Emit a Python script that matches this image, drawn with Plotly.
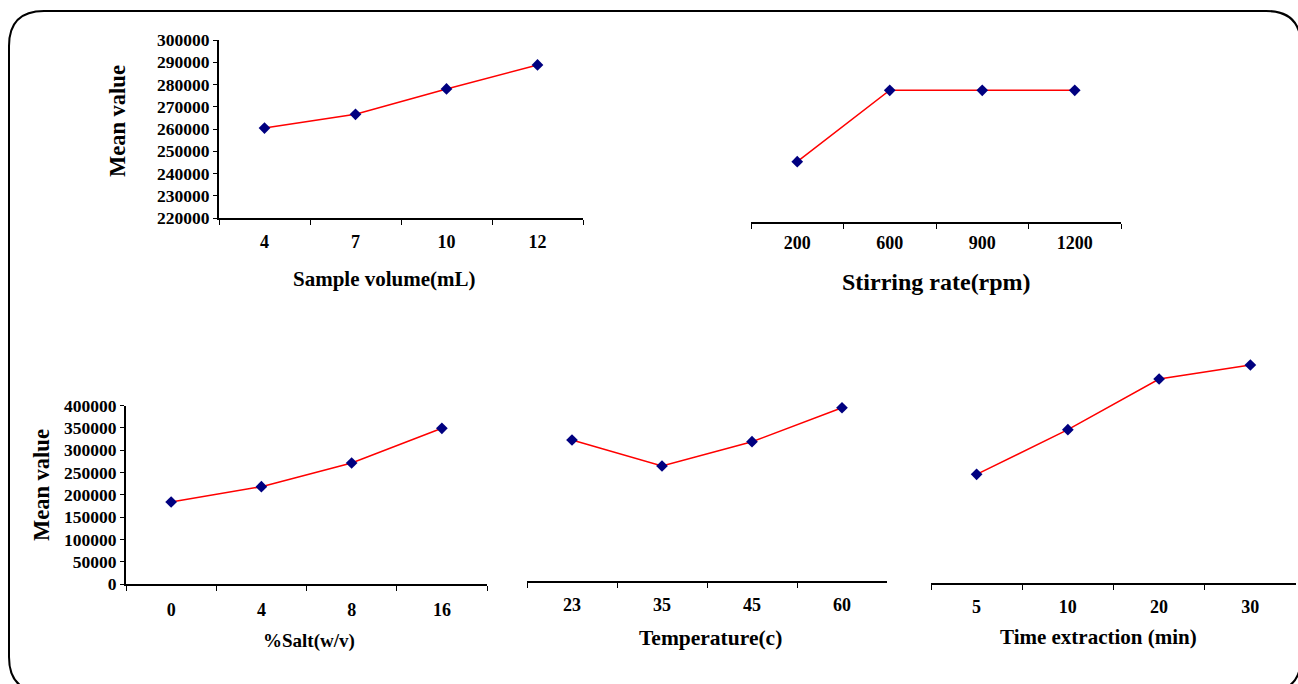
import plotly.graph_objects as go

W, H = 1298, 684

# ---------------- data ----------------
vol_cats = ["4", "7", "10", "12"]
vol_vals = [260400, 266600, 278000, 288800]

stir_cats = ["200", "600", "900", "1200"]
stir_vals = [246500, 277900, 277900, 277900]

salt_cats = ["0", "4", "8", "16"]
salt_vals = [184000, 218300, 271400, 349300]

temp_cats = ["23", "35", "45", "60"]
temp_vals = [315600, 257300, 311800, 388000]

time_cats = ["5", "10", "20", "30"]
time_vals = [233600, 329200, 437800, 467900]

x_titles = ["Sample volume(mL)", "Stirring rate(rpm)", "%Salt(w/v)",
            "Temperature(c)", "Time extraction (min)"]
y_title = "Mean value"


def px(x):
    return x / W


def py(y):
    return 1 - y / H


FONT = "Liberation Serif, Times New Roman, serif"

# panel geometry: (x_left, x_right, y_bottom, y_top) in pixels, y range, show y axis, dtick, label standoff
panels = [
    (vol_cats, vol_vals, (219, 583, 218, 40), [220000, 300000], True, 10000, 6),
    (stir_cats, stir_vals, (751, 1121, 222, 40), [220000, 300000], False, 10000, 3),
    (salt_cats, salt_vals, (126, 487, 584, 405.7), [0, 400000], True, 50000, 8),
    (temp_cats, temp_vals, (527, 887, 580.7, 402.4), [0, 400000], False, 50000, 7),
    (time_cats, time_vals, (931, 1296, 583.3, 350), [0, 500000], False, 50000, 6),
]

fig = go.Figure()
layout = {}
for i, (cats, vals, (xl, xr, yb, yt), yr, showy, dt, so) in enumerate(panels):
    n = "" if i == 0 else str(i + 1)
    fig.add_trace(go.Scatter(
        x=cats, y=vals, mode="lines+markers",
        line=dict(color="#ff0000", width=1.5),
        marker=dict(symbol="diamond", size=9, color="#000080",
                    line=dict(width=0)),
        xaxis="x" + n, yaxis="y" + n, showlegend=False, cliponaxis=False,
    ))
    layout["xaxis" + n] = dict(
        domain=[px(xl), px(xr)], anchor="y" + n, type="category",
        range=[-0.5, 3.5], tickson="boundaries", ticks="outside", ticklen=5,
        tickwidth=1, tickcolor="black", showline=True, linecolor="black",
        linewidth=2, showgrid=False, zeroline=False, automargin=False,
        tickfont=dict(family=FONT, size=18, color="black", weight="bold"),
        ticklabelstandoff=so, fixedrange=True,
    )
    layout["yaxis" + n] = dict(
        domain=[py(yb), py(yt)], anchor="x" + n, range=yr, dtick=dt,
        tickformat="d", visible=showy, showline=showy, linecolor="black",
        linewidth=2, ticks="outside" if showy else "", ticklen=4,
        tickcolor="black", showgrid=False, zeroline=False, automargin=False,
        tickfont=dict(family=FONT, size=17.5, color="black", weight="bold"),
        fixedrange=True,
    )

annotations = []
title_pos = [(384, 279, 21), (936, 282, 24), (309, 641, 19), (710, 638, 21.5), (1098, 637, 21)]
for t, (x, y, s) in zip(x_titles, title_pos):
    annotations.append(dict(text="<b>%s</b>" % t, x=px(x), y=py(y), xref="paper", yref="paper",
                            xanchor="center", yanchor="middle", showarrow=False,
                            font=dict(family=FONT, size=s, color="black")))
for (x, y) in [(117, 121), (42, 485)]:
    annotations.append(dict(text="<b>%s</b>" % y_title, x=px(x), y=py(y), xref="paper",
                            yref="paper", xanchor="center", yanchor="middle",
                            showarrow=False, textangle=-90,
                            font=dict(family=FONT, size=22.5, color="black")))

# rounded border
L, T, R, B, r = 9, 11, 1301, 692, 35
path = (f"M {px(L+r)},{py(T)} L {px(R-r)},{py(T)} Q {px(R)},{py(T)} {px(R)},{py(T+r)} "
        f"L {px(R)},{py(B-r)} Q {px(R)},{py(B)} {px(R-r)},{py(B)} "
        f"L {px(L+r)},{py(B)} Q {px(L)},{py(B)} {px(L)},{py(B-r)} "
        f"L {px(L)},{py(T+r)} Q {px(L)},{py(T)} {px(L+r)},{py(T)} Z")

fig.update_layout(
    template="none",
    width=W, height=H, autosize=False,
    margin=dict(l=0, r=0, t=0, b=0, pad=0),
    paper_bgcolor="white", plot_bgcolor="white",
    annotations=annotations,
    shapes=[dict(type="path", path=path, xref="paper", yref="paper",
                 line=dict(color="black", width=2))],
    **layout,
)

fig.write_html("out.html", config={"displayModeBar": False},
               post_script="document.body.style.margin='0';")
